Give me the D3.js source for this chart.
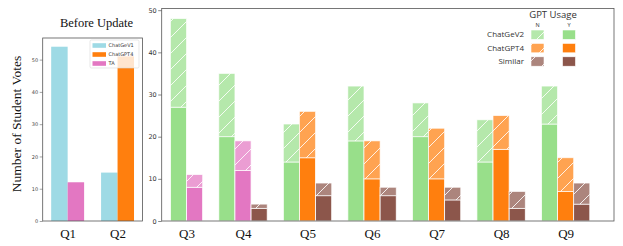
<!DOCTYPE html>
<html><head><meta charset="utf-8">
<script src="https://cdn.jsdelivr.net/npm/d3@7"></script>
<style>body{margin:0;background:#fff}svg{display:block}</style>
</head><body>
<svg id="chart" width="623" height="246"></svg>
<script>
// ---- data ----
const leftQuestions = ["Q1", "Q2"];
const beforeGeV1 = [54, 15];
const beforeOtherModel = ["TA", "ChatGPT4"];
const beforeOther = [12, 51];
const leftLegend = ["ChatGeV1", "ChatGPT4", "TA"];

const rightQuestions = ["Q3", "Q4", "Q5", "Q6", "Q7", "Q8", "Q9"];
const geV2Yes = [27, 20, 14, 19, 20, 14, 23];
const geV2No = [21, 15, 9, 13, 8, 10, 9];
const otherModel = ["TA", "TA", "ChatGPT4", "ChatGPT4", "ChatGPT4", "ChatGPT4", "ChatGPT4"];
const otherYes = [8, 12, 15, 10, 10, 17, 7];
const otherNo = [3, 7, 11, 9, 12, 8, 8];
const similarYes = [null, 3, 6, 6, 5, 3, 4];
const similarNo = [null, 1, 3, 2, 3, 4, 5];
const yTicksLeft = [0, 10, 20, 30, 40, 50];
const yTicksRight = [0, 10, 20, 30, 40, 50];
const legendRows = ["ChatGeV2", "ChatGPT4", "Similar"];

const colors = {ChatGeV1: "#9edae5", ChatGeV2: "#98df8a", ChatGPT4: "#ff7f0e", TA: "#e377c2", Similar: "#8c564b"};

const svg = d3.select("#chart");
const defs = svg.append("defs");
const hatch = defs.append("pattern").attr("id", "hatch").attr("patternUnits", "userSpaceOnUse")
  .attr("width", 16).attr("height", 16);
hatch.append("path").attr("d", "M-4,4 L4,-4 M0,16 L16,0 M12,20 L20,12")
  .attr("stroke", "#fff").attr("stroke-width", 1).attr("stroke-opacity", 0.85);

const spine = "#555";
const serif = "'Liberation Serif', 'Times New Roman', serif";

// ---- left panel ----
const L = {x0: 42.7, x1: 142.5, y0: 38, y1: 221};
const xl = d3.scaleLinear().domain([-0.5, 1.5]).range([L.x0, L.x1]);
const yl = d3.scaleLinear().domain([0, 56.7]).range([L.y1, L.y0]);
const wl = 0.33;
const gl = svg.append("g");
leftQuestions.forEach((q, i) => {
  gl.append("rect").attr("x", xl(i - wl)).attr("width", xl(wl) - xl(0))
    .attr("y", yl(beforeGeV1[i])).attr("height", yl(0) - yl(beforeGeV1[i]))
    .attr("fill", colors.ChatGeV1);
  gl.append("rect").attr("x", xl(i)).attr("width", xl(wl) - xl(0))
    .attr("y", yl(beforeOther[i])).attr("height", yl(0) - yl(beforeOther[i]))
    .attr("fill", colors[beforeOtherModel[i]]);
});
// axes
const axL = d3.axisLeft(yl).tickValues(yTicksLeft).tickSize(3).tickPadding(1.5);
const gaL = svg.append("g").attr("transform", `translate(${L.x0},0)`).call(axL);
gaL.select(".domain").remove();
gaL.selectAll("text").attr("font-family", "DejaVu Sans").attr("font-size", 5).attr("fill", "#444");
gaL.selectAll("line").attr("stroke", "#666").attr("stroke-width", 0.6);
svg.append("rect").attr("x", L.x0).attr("y", L.y0).attr("width", L.x1 - L.x0).attr("height", L.y1 - L.y0)
  .attr("fill", "none").attr("stroke", spine).attr("stroke-width", 0.8);
const axLx = d3.axisBottom(xl).tickValues([0, 1]).tickFormat(i => leftQuestions[i]).tickSize(0).tickPadding(8);
const gaLx = svg.append("g").attr("transform", `translate(0,${L.y1})`).call(axLx);
gaLx.select(".domain").remove();
gaLx.selectAll("text").attr("font-family", serif).attr("font-size", 13).attr("fill", "#111");
svg.append("text").attr("x", 96.5).attr("y", 26.5).attr("text-anchor", "middle")
  .attr("font-family", serif).attr("font-size", 12.5).attr("fill", "#111").text("Before Update");
svg.append("text").attr("transform", "translate(20.5,124) rotate(-90)").attr("text-anchor", "middle")
  .attr("font-family", serif).attr("font-size", 13.5).attr("fill", "#111").text("Number of Student Votes");
// left legend
const lg = svg.append("g");
lg.append("rect").attr("x", 90).attr("y", 40).attr("width", 49).attr("height", 28).attr("rx", 1.5)
  .attr("fill", "#fff").attr("fill-opacity", 0.8).attr("stroke", "#d8d8d8").attr("stroke-width", 0.6);
leftLegend.forEach((k, j) => {
  const cy = 45.5 + j * 9;
  lg.append("rect").attr("x", 92.5).attr("y", cy - 2.3).attr("width", 13.5).attr("height", 4.6).attr("fill", colors[k]);
  lg.append("text").attr("x", 108.5).attr("y", cy + 1.8).attr("font-family", "DejaVu Sans")
    .attr("font-size", 5).attr("fill", "#333").text(k);
});

// ---- right panel ----
const R = {x0: 161.7, x1: 614, y0: 8.5, y1: 221};
const xr = d3.scaleLinear().domain([-0.26, 6.75]).range([R.x0, R.x1]);
const yr = d3.scaleLinear().domain([0, 50.4]).range([R.y1, R.y0]);
const w = 0.25;
const gr = svg.append("g");
function stacked(xc, yes, no, color) {
  const x = xr(xc - w / 2), bw = xr(w) - xr(0);
  gr.append("rect").attr("x", x).attr("width", bw).attr("y", yr(yes)).attr("height", yr(0) - yr(yes))
    .attr("fill", color).attr("stroke", "#fff").attr("stroke-width", 0.8);
  gr.append("rect").attr("x", x).attr("width", bw).attr("y", yr(yes + no)).attr("height", yr(yes) - yr(yes + no))
    .attr("fill", color).attr("fill-opacity", 0.72);
  gr.append("rect").attr("x", x).attr("width", bw).attr("y", yr(yes + no)).attr("height", yr(yes) - yr(yes + no))
    .attr("fill", "url(#hatch)").attr("stroke", "#fff").attr("stroke-width", 0.8).attr("stroke-opacity", 0.8);
}
const tickPos = [];
rightQuestions.forEach((q, i) => {
  const n = similarYes[i] == null ? 2 : 3;
  const offs = n === 3 ? [-w, 0, w] : [0, w];
  stacked(i + offs[0], geV2Yes[i], geV2No[i], colors.ChatGeV2);
  stacked(i + offs[1], otherYes[i], otherNo[i], colors[otherModel[i]]);
  if (n === 3) stacked(i + offs[2], similarYes[i], similarNo[i], colors.Similar);
  tickPos.push(i + d3.mean(offs));
});
const axR = d3.axisLeft(yr).tickValues(yTicksRight).tickSize(3.5).tickPadding(1.5);
const gaR = svg.append("g").attr("transform", `translate(${R.x0},0)`).call(axR);
gaR.select(".domain").remove();
gaR.selectAll("text").attr("font-family", "DejaVu Sans").attr("font-size", 6.5).attr("fill", "#333");
gaR.selectAll("line").attr("stroke", "#555").attr("stroke-width", 0.7);
svg.append("rect").attr("x", R.x0).attr("y", R.y0).attr("width", R.x1 - R.x0).attr("height", R.y1 - R.y0)
  .attr("fill", "none").attr("stroke", spine).attr("stroke-width", 0.8);
const axRx = d3.axisBottom(xr).tickValues(tickPos).tickFormat((d, i) => rightQuestions[i]).tickSize(0).tickPadding(8);
const gaRx = svg.append("g").attr("transform", `translate(0,${R.y1})`).call(axRx);
gaRx.select(".domain").remove();
gaRx.selectAll("text").attr("font-family", serif).attr("font-size", 13).attr("fill", "#111");

// right legend
const rg = svg.append("g").attr("font-family", "'Open Sans', sans-serif").attr("fill", "#333");
rg.append("text").attr("x", 553).attr("y", 17.5).attr("text-anchor", "middle").attr("font-size", 9.5).text("GPT Usage");
rg.append("text").attr("x", 537.5).attr("y", 27).attr("text-anchor", "middle").attr("font-size", 5.5).text("N");
rg.append("text").attr("x", 569).attr("y", 27).attr("text-anchor", "middle").attr("font-size", 5.5).text("Y");
legendRows.forEach((k, j) => {
  const top = 30 + j * 13.4;
  rg.append("text").attr("x", 524).attr("y", top + 7.3).attr("text-anchor", "end").attr("font-size", 8).text(k);
  rg.append("rect").attr("x", 531).attr("y", top).attr("width", 13).attr("height", 9.4)
    .attr("fill", colors[k]).attr("fill-opacity", 0.72);
  rg.append("rect").attr("x", 531).attr("y", top).attr("width", 13).attr("height", 9.4)
    .attr("fill", "url(#hatch)").attr("stroke", "#fff").attr("stroke-width", 0.6);
  rg.append("rect").attr("x", 562.5).attr("y", top).attr("width", 13).attr("height", 9.4)
    .attr("fill", colors[k]).attr("stroke", "#fff").attr("stroke-width", 0.6);
});
</script>
</body></html>
